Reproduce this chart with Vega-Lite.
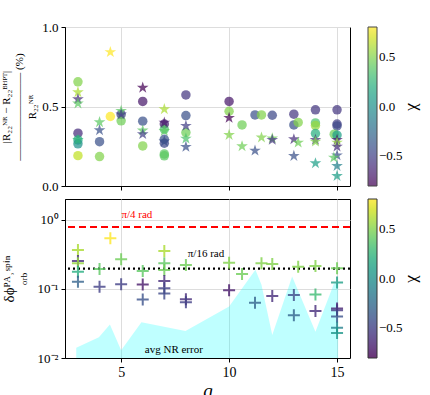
{
  "$schema": "https://vega.github.io/schema/vega-lite/v6.json",
  "padding": {"left": 0, "top": 20, "right": 0, "bottom": 0},
  "spacing": 4,
  "config": {
    "font": "Liberation Serif",
    "view": {"stroke": "black", "strokeWidth": 1},
    "axis": {"domainColor": "black", "tickColor": "black", "labelColor": "black", "titleColor": "black", "gridColor": "#dddddd", "labelFontSize": 13, "titleFontWeight": "normal", "tickSize": 4, "labelPadding": 3},
    "legend": {"labelFont": "Liberation Serif", "titleFont": "Liberation Serif"}
  },
  "vconcat": [
    {
      "width": 285,
      "height": 159,
      "data": {"values": [
        {"q": 3, "v": 0.655, "chi": 0.5, "kind": "Amp"},
        {"q": 3, "v": 0.332, "chi": -0.6, "kind": "Amp"},
        {"q": 3, "v": 0.29, "chi": 0.2, "kind": "Amp"},
        {"q": 3, "v": 0.265, "chi": 0.0, "kind": "Amp"},
        {"q": 3, "v": 0.191, "chi": 0.65, "kind": "Amp"},
        {"q": 4, "v": 0.279, "chi": -0.4, "kind": "Amp"},
        {"q": 4, "v": 0.185, "chi": 0.5, "kind": "Amp"},
        {"q": 4.5, "v": 0.437, "chi": 0.8, "kind": "Amp"},
        {"q": 5, "v": 0.45, "chi": -0.5, "kind": "Amp"},
        {"q": 5, "v": 0.41, "chi": 0.45, "kind": "Amp"},
        {"q": 6, "v": 0.532, "chi": -0.7, "kind": "Amp"},
        {"q": 6, "v": 0.408, "chi": -0.4, "kind": "Amp"},
        {"q": 6, "v": 0.252, "chi": 0.5, "kind": "Amp"},
        {"q": 7, "v": 0.39, "chi": -0.65, "kind": "Amp"},
        {"q": 7, "v": 0.357, "chi": 0.35, "kind": "Amp"},
        {"q": 7, "v": 0.294, "chi": -0.4, "kind": "Amp"},
        {"q": 7, "v": 0.269, "chi": -0.45, "kind": "Amp"},
        {"q": 7, "v": 0.202, "chi": 0.4, "kind": "Amp"},
        {"q": 7, "v": 0.19, "chi": 0.4, "kind": "Amp"},
        {"q": 8, "v": 0.573, "chi": -0.55, "kind": "Amp"},
        {"q": 8, "v": 0.443, "chi": -0.4, "kind": "Amp"},
        {"q": 8, "v": 0.336, "chi": 0.45, "kind": "Amp"},
        {"q": 10, "v": 0.532, "chi": -0.7, "kind": "Amp"},
        {"q": 10, "v": 0.47, "chi": 0.5, "kind": "Amp"},
        {"q": 10.6, "v": 0.384, "chi": 0.45, "kind": "Amp"},
        {"q": 11.2, "v": 0.447, "chi": -0.4, "kind": "Amp"},
        {"q": 11.5, "v": 0.447, "chi": 0.5, "kind": "Amp"},
        {"q": 12, "v": 0.445, "chi": -0.45, "kind": "Amp"},
        {"q": 13, "v": 0.452, "chi": -0.55, "kind": "Amp"},
        {"q": 13, "v": 0.384, "chi": -0.4, "kind": "Amp"},
        {"q": 13.2, "v": 0.4, "chi": 0.5, "kind": "Amp"},
        {"q": 14, "v": 0.479, "chi": -0.55, "kind": "Amp"},
        {"q": 14, "v": 0.397, "chi": 0.35, "kind": "Amp"},
        {"q": 14, "v": 0.38, "chi": 0.55, "kind": "Amp"},
        {"q": 14, "v": 0.33, "chi": 0.2, "kind": "Amp"},
        {"q": 15, "v": 0.479, "chi": -0.55, "kind": "Amp"},
        {"q": 15, "v": 0.39, "chi": -0.5, "kind": "Amp"},
        {"q": 15, "v": 0.378, "chi": -0.45, "kind": "Amp"},
        {"q": 14.87, "v": 0.326, "chi": 0.45, "kind": "Amp"},
        {"q": 15, "v": 0.32, "chi": 0.1, "kind": "Amp"},
        {"q": 3, "v": 0.59, "chi": 0.6, "kind": "Freq"},
        {"q": 3, "v": 0.546, "chi": -0.6, "kind": "Freq"},
        {"q": 3, "v": 0.519, "chi": 0.4, "kind": "Freq"},
        {"q": 3, "v": 0.29, "chi": 0.25, "kind": "Freq"},
        {"q": 4, "v": 0.401, "chi": 0.4, "kind": "Freq"},
        {"q": 4, "v": 0.351, "chi": -0.4, "kind": "Freq"},
        {"q": 4.5, "v": 0.842, "chi": 0.8, "kind": "Freq"},
        {"q": 5, "v": 0.473, "chi": 0.4, "kind": "Freq"},
        {"q": 5, "v": 0.45, "chi": -0.5, "kind": "Freq"},
        {"q": 6, "v": 0.618, "chi": -0.8, "kind": "Freq"},
        {"q": 6, "v": 0.349, "chi": 0.4, "kind": "Freq"},
        {"q": 6, "v": 0.326, "chi": -0.5, "kind": "Freq"},
        {"q": 7, "v": 0.483, "chi": 0.6, "kind": "Freq"},
        {"q": 7, "v": 0.399, "chi": -0.7, "kind": "Freq"},
        {"q": 7, "v": 0.347, "chi": 0.4, "kind": "Freq"},
        {"q": 7, "v": 0.28, "chi": -0.4, "kind": "Freq"},
        {"q": 8, "v": 0.378, "chi": -0.5, "kind": "Freq"},
        {"q": 8, "v": 0.298, "chi": 0.35, "kind": "Freq"},
        {"q": 8, "v": 0.246, "chi": -0.4, "kind": "Freq"},
        {"q": 10, "v": 0.429, "chi": -0.8, "kind": "Freq"},
        {"q": 10, "v": 0.321, "chi": 0.5, "kind": "Freq"},
        {"q": 10.6, "v": 0.25, "chi": 0.45, "kind": "Freq"},
        {"q": 11.2, "v": 0.223, "chi": -0.4, "kind": "Freq"},
        {"q": 11.5, "v": 0.305, "chi": 0.5, "kind": "Freq"},
        {"q": 12, "v": 0.3, "chi": 0.45, "kind": "Freq"},
        {"q": 12, "v": 0.29, "chi": -0.55, "kind": "Freq"},
        {"q": 13, "v": 0.294, "chi": -0.6, "kind": "Freq"},
        {"q": 13, "v": 0.189, "chi": -0.4, "kind": "Freq"},
        {"q": 13.2, "v": 0.273, "chi": 0.45, "kind": "Freq"},
        {"q": 14, "v": 0.29, "chi": -0.6, "kind": "Freq"},
        {"q": 14, "v": 0.279, "chi": 0.5, "kind": "Freq"},
        {"q": 14, "v": 0.143, "chi": 0.1, "kind": "Freq"},
        {"q": 15, "v": 0.29, "chi": -0.7, "kind": "Freq"},
        {"q": 15, "v": 0.273, "chi": 0.55, "kind": "Freq"},
        {"q": 15, "v": 0.248, "chi": -0.6, "kind": "Freq"},
        {"q": 15, "v": 0.193, "chi": -0.4, "kind": "Freq"},
        {"q": 14.85, "v": 0.179, "chi": 0.4, "kind": "Freq"},
        {"q": 15, "v": 0.126, "chi": -0.1, "kind": "Freq"},
        {"q": 15, "v": 0.063, "chi": 0.1, "kind": "Freq"}
      ]},
      "mark": {"type": "point", "filled": true, "opacity": 0.72},
      "encoding": {
        "x": {"field": "q", "type": "quantitative", "scale": {"domain": [2.4, 15.6], "nice": false, "zero": false}, "axis": {"values": [5, 10, 15], "labels": false, "title": null, "grid": true}},
        "y": {"field": "v", "type": "quantitative", "scale": {"domain": [0, 1], "nice": false}, "axis": {"values": [0, 0.5, 1], "format": ".1f", "grid": true, "titleFontSize": 11, "titlePadding": 4, "title": ["|R₂₂ᴺᴿ − R₂₂ᴮᴴᴾᵀ|      ", "――――――――  (%)", "R₂₂ᴺᴿ       "]}},
        "color": {"field": "chi", "type": "quantitative", "scale": {"scheme": "viridis", "domain": [-0.8, 0.8]}, "legend": {"title": "χ", "orient": "right", "direction": "vertical", "gradientLength": 159, "gradientThickness": 9, "values": [-0.5, 0, 0.5], "format": ".1f", "labelFontSize": 13, "titleOrient": "right", "titleAnchor": "middle", "titleFontSize": 17, "titleFontWeight": "normal", "gradientStrokeColor": "black", "gradientStrokeWidth": 1}},
        "shape": {"field": "kind", "type": "nominal", "scale": {"domain": ["Amp", "Freq"], "range": ["circle", "M0,-1L0.2245,-0.309L0.951,-0.309L0.363,0.118L0.588,0.809L0,0.382L-0.588,0.809L-0.363,0.118L-0.951,-0.309L-0.2245,-0.309Z"]}, "legend": {"title": null, "orient": "none", "legendX": 60, "legendY": -22, "direction": "horizontal", "symbolFillColor": "black", "symbolStrokeColor": "black", "symbolOpacity": 1, "symbolSize": 170, "labelFontSize": 15, "labelOffset": 12, "columnPadding": 40}},
        "size": {"field": "kind", "type": "nominal", "scale": {"domain": ["Amp", "Freq"], "range": [90, 150]}, "legend": null}
      }
    },
    {
      "width": 285,
      "height": 159,
      "layer": [
        {
          "data": {"values": [
            {"q": 2.92, "v": 0.0141},
            {"q": 3.97, "v": 0.0199},
            {"q": 4.48, "v": 0.0306},
            {"q": 5.0, "v": 0.013},
            {"q": 5.94, "v": 0.0329},
            {"q": 7.98, "v": 0.0246},
            {"q": 10.0, "v": 0.0558},
            {"q": 11.22, "v": 0.19},
            {"q": 11.5, "v": 0.115},
            {"q": 12.0, "v": 0.0216},
            {"q": 12.92, "v": 0.151},
            {"q": 14.0, "v": 0.024},
            {"q": 14.85, "v": 0.118},
            {"q": 15.05, "v": 0.125}
          ]},
          "mark": {"type": "area", "color": "cyan", "opacity": 0.25},
          "encoding": {
            "x": {"field": "q", "type": "quantitative", "scale": {"domain": [2.4, 15.6], "nice": false, "zero": false}, "axis": {"values": [5, 10, 15], "grid": true, "title": "q", "titleFontStyle": "italic", "titleFontSize": 19, "labelFontSize": 14, "titlePadding": 2}},
            "y": {"field": "v", "type": "quantitative", "scale": {"type": "log", "domain": [0.01, 2], "nice": false}, "axis": {"values": [0.01, 0.1, 1], "grid": true, "labelExpr": "datum.value >= 1 ? '10⁰' : datum.value >= 0.1 ? '10⁻¹' : '10⁻²'", "titleFontSize": 15, "titlePadding": 4, "title": ["δϕᴾᴬ˒ˢᵖⁱⁿ", "ᵒʳᵇ    "]}},
            "y2": {"datum": 0.01}
          }
        },
        {
          "data": {"values": [{"t": 1}]},
          "mark": {"type": "rule", "color": "red", "strokeWidth": 2, "strokeDash": [7, 4]},
          "encoding": {"y": {"datum": 0.785}}
        },
        {
          "data": {"values": [{"t": 1}]},
          "mark": {"type": "rule", "color": "black", "strokeWidth": 2.2, "strokeDash": [2, 3]},
          "encoding": {"y": {"datum": 0.196}}
        },
        {
          "data": {"values": [
            {"q": 3, "v": 0.366, "chi": 0.6},
            {"q": 3, "v": 0.254, "chi": -0.6},
            {"q": 3, "v": 0.235, "chi": 0.55},
            {"q": 3, "v": 0.177, "chi": 0.2},
            {"q": 3, "v": 0.127, "chi": -0.3},
            {"q": 4, "v": 0.194, "chi": 0.4},
            {"q": 4, "v": 0.107, "chi": -0.5},
            {"q": 4.5, "v": 0.54, "chi": 0.8},
            {"q": 5, "v": 0.268, "chi": 0.45},
            {"q": 5, "v": 0.117, "chi": -0.5},
            {"q": 6, "v": 0.182, "chi": 0.4},
            {"q": 6, "v": 0.116, "chi": -0.7},
            {"q": 6, "v": 0.0704, "chi": -0.4},
            {"q": 7, "v": 0.355, "chi": 0.6},
            {"q": 7, "v": 0.235, "chi": 0.4},
            {"q": 7, "v": 0.188, "chi": 0.45},
            {"q": 7, "v": 0.13, "chi": -0.6},
            {"q": 7, "v": 0.102, "chi": -0.5},
            {"q": 7, "v": 0.086, "chi": -0.45},
            {"q": 8, "v": 0.222, "chi": 0.45},
            {"q": 8, "v": 0.071, "chi": -0.6},
            {"q": 8, "v": 0.064, "chi": -0.5},
            {"q": 10, "v": 0.24, "chi": 0.5},
            {"q": 10, "v": 0.096, "chi": -0.7},
            {"q": 10.6, "v": 0.164, "chi": 0.45},
            {"q": 11.2, "v": 0.063, "chi": -0.3},
            {"q": 11.5, "v": 0.235, "chi": 0.5},
            {"q": 12, "v": 0.23, "chi": 0.5},
            {"q": 12, "v": 0.0787, "chi": -0.6},
            {"q": 13, "v": 0.0814, "chi": -0.45},
            {"q": 13, "v": 0.0417, "chi": -0.3},
            {"q": 13.2, "v": 0.21, "chi": 0.5},
            {"q": 14, "v": 0.215, "chi": 0.5},
            {"q": 14, "v": 0.083, "chi": 0.3},
            {"q": 14, "v": 0.048, "chi": -0.6},
            {"q": 15, "v": 0.199, "chi": 0.45},
            {"q": 15, "v": 0.124, "chi": 0.1},
            {"q": 15, "v": 0.052, "chi": -0.65},
            {"q": 15, "v": 0.049, "chi": -0.55},
            {"q": 15, "v": 0.04, "chi": -0.4},
            {"q": 15, "v": 0.0273, "chi": -0.1},
            {"q": 15, "v": 0.023, "chi": 0.05}
          ]},
          "mark": {"type": "point", "shape": "M-1,0L1,0M0,-1L0,1", "filled": false, "strokeWidth": 2, "size": 144, "opacity": 0.8},
          "encoding": {
            "x": {"field": "q", "type": "quantitative"},
            "y": {"field": "v", "type": "quantitative"},
            "color": {"field": "chi", "type": "quantitative", "scale": {"scheme": "viridis", "domain": [-0.8, 0.8]}, "legend": {"title": "χ", "orient": "right", "direction": "vertical", "gradientLength": 159, "gradientThickness": 9, "values": [-0.5, 0, 0.5], "format": ".1f", "labelFontSize": 13, "titleOrient": "right", "titleAnchor": "middle", "titleFontSize": 17, "titleFontWeight": "normal", "gradientStrokeColor": "black", "gradientStrokeWidth": 1}}
          }
        },
        {
          "data": {"values": [{"t": 1}]},
          "mark": {"type": "text", "color": "red", "fontSize": 11},
          "encoding": {"x": {"datum": 5.73}, "y": {"datum": 1.18}, "text": {"value": "π/4 rad"}}
        },
        {
          "data": {"values": [{"t": 1}]},
          "mark": {"type": "text", "color": "black", "fontSize": 11},
          "encoding": {"x": {"datum": 8.93}, "y": {"datum": 0.32}, "text": {"value": "π/16 rad"}}
        },
        {
          "data": {"values": [{"t": 1}]},
          "mark": {"type": "text", "color": "black", "fontSize": 11},
          "encoding": {"x": {"datum": 7.44}, "y": {"datum": 0.0132}, "text": {"value": "avg NR error"}}
        }
      ]
    }
  ],
  "resolve": {"scale": {"color": "independent", "x": "independent", "y": "independent", "shape": "independent", "size": "independent"}}
}
